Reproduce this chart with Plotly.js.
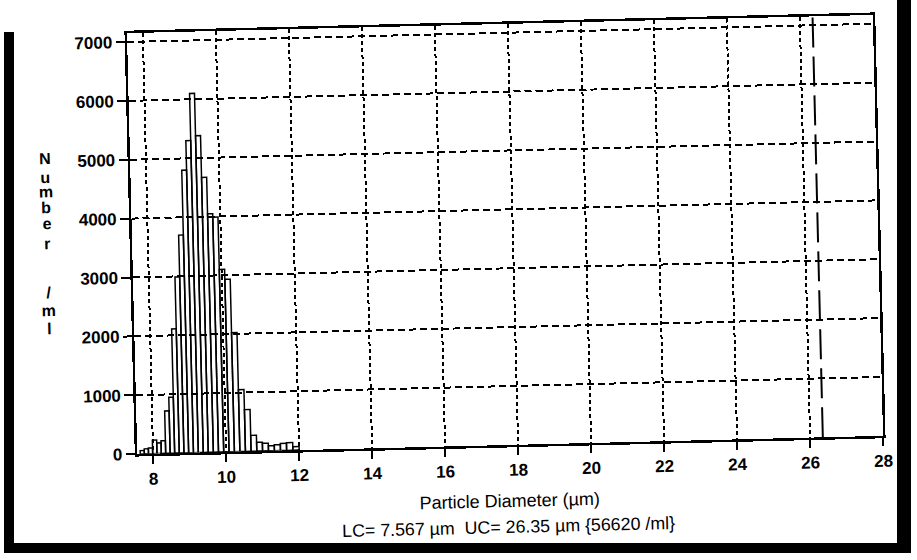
<!DOCTYPE html>
<html>
<head>
<meta charset="utf-8">
<script src="https://cdn.plot.ly/plotly-3.0.1.min.js"></script>
<style>
  html, body { margin: 0; padding: 0; background: #fff; overflow: hidden; }
  #wrap { position: relative; width: 917px; height: 560px; }
  #chart { position: absolute; left: 0; top: 0; width: 917px; height: 560px;
           transform: rotate(-1.4deg); transform-origin: 505px 234px; }
  .edge { position: absolute; background: #000; }
</style>
</head>
<body>
<div id="wrap">
  <div id="chart"></div>
  <div class="edge" style="left:4px;top:32px;width:10px;height:520px"></div>
  <div class="edge" style="left:897px;top:0px;width:14px;height:553px"></div>
  <div class="edge" style="left:4px;top:543px;width:907px;height:10px"></div>
</div>
<script>
// Channel edges of the size histogram (µm) and particle counts per channel (/ml)
const binEdges = [7.649, 7.761, 7.875, 7.990, 8.107, 8.226, 8.346, 8.468, 8.592, 8.718,
                  8.846, 8.975, 9.107, 9.240, 9.375, 9.512, 9.652, 9.793, 9.936, 10.082,
                  10.229, 10.379, 10.531, 10.685, 10.842, 11.000, 11.162, 11.325, 11.491,
                  11.659, 11.830, 12.003];
const counts = [57, 85, 97, 230, 180, 215, 720, 950, 2110, 2990,
                3700, 4800, 5300, 6100, 5380, 4670, 4050, 3990, 3100, 2930,
                2020, 1050, 710, 270, 150, 130, 85, 100, 120, 130, 60];

const xTicks = [8, 10, 12, 14, 16, 18, 20, 22, 24, 26, 28];
const yTicks = [0, 1000, 2000, 3000, 4000, 5000, 6000, 7000];

const lowerCutoff = 7.567;   // LC, µm
const upperCutoff = 26.35;   // UC, µm
const totalPerMl = 56620;

const xTitle = 'Particle Diameter (µm)';
const yTitleLetters = ['N', 'u', 'm', 'b', 'e', 'r', '/', 'm', 'l'];
const yTitleLevels  = [5050, 4730, 4490, 4220, 3950, 3610, 2780, 2475, 2170];

const SANS = '"Liberation Sans", Arial, Helvetica, sans-serif';

const centers = [], widths = [];
for (let i = 0; i < counts.length; i++) {
  centers.push((binEdges[i] + binEdges[i + 1]) / 2);
  widths.push(binEdges[i + 1] - binEdges[i]);
}

const bars = {
  type: 'bar',
  x: centers,
  y: counts,
  width: widths,
  marker: { color: 'rgba(255,255,255,0)', line: { color: '#000', width: 1.5 } },
  hoverinfo: 'skip'
};

const M = { l: 132, r: 39, t: 24, b: 115 };
const plotW = 917 - M.l - M.r;

const annotations = [
  { text: xTitle, xref: 'paper', yref: 'paper', x: (502.5 - M.l) / plotW, y: 0,
    yshift: -55.5, xanchor: 'center', yanchor: 'middle', showarrow: false,
    font: { family: SANS, size: 18, color: '#000' } },
  { text: 'LC= ' + lowerCutoff + ' µm&nbsp;&nbsp;UC= ' + upperCutoff + ' µm {' + totalPerMl + ' /ml}',
    xref: 'paper', yref: 'paper', x: (501.5 - M.l) / plotW, y: 0,
    yshift: -82, xanchor: 'center', yanchor: 'middle', showarrow: false,
    font: { family: SANS, size: 17.8, color: '#000' } }
];
yTitleLetters.forEach((ch, i) => {
  annotations.push({
    text: ch, xref: 'paper', yref: 'y', x: 0, xshift: -85, y: yTitleLevels[i],
    xanchor: 'center', yanchor: 'middle', showarrow: false,
    font: { family: SANS, size: 16, color: '#000', weight: 700 }
  });
});

const tickFont = { family: SANS, size: 17, color: '#000', weight: 700 };

const layout = {
  width: 917, height: 560,
  margin: M,
  paper_bgcolor: 'rgba(0,0,0,0)',
  plot_bgcolor: 'rgba(0,0,0,0)',
  showlegend: false,
  bargap: 0,
  xaxis: {
    range: [lowerCutoff, 28],
    tickvals: xTicks,
    ticks: 'outside', ticklen: 8, tickwidth: 2, tickcolor: '#000',
    showgrid: true, gridcolor: '#000', gridwidth: 2, griddash: '4px,3px',
    showline: true, mirror: true, linewidth: 2.5, linecolor: '#000',
    zeroline: false,
    tickfont: tickFont
  },
  yaxis: {
    range: [0, 7150],
    tickvals: yTicks,
    ticks: 'outside', ticklen: 9, tickwidth: 2, tickcolor: '#000',
    showgrid: true, gridcolor: '#000', gridwidth: 2, griddash: '7px,4px',
    showline: true, mirror: true, linewidth: 2.5, linecolor: '#000',
    zeroline: false,
    tickfont: tickFont
  },
  shapes: [
    { type: 'line', xref: 'x', yref: 'paper', x0: upperCutoff, x1: upperCutoff, y0: 0, y1: 1,
      line: { color: '#000', width: 2, dash: '30px,9px' }, layer: 'above' }
  ],
  annotations: annotations
};

Plotly.newPlot('chart', [bars], layout, { staticPlot: true, displayModeBar: false });
</script>
</body>
</html>
